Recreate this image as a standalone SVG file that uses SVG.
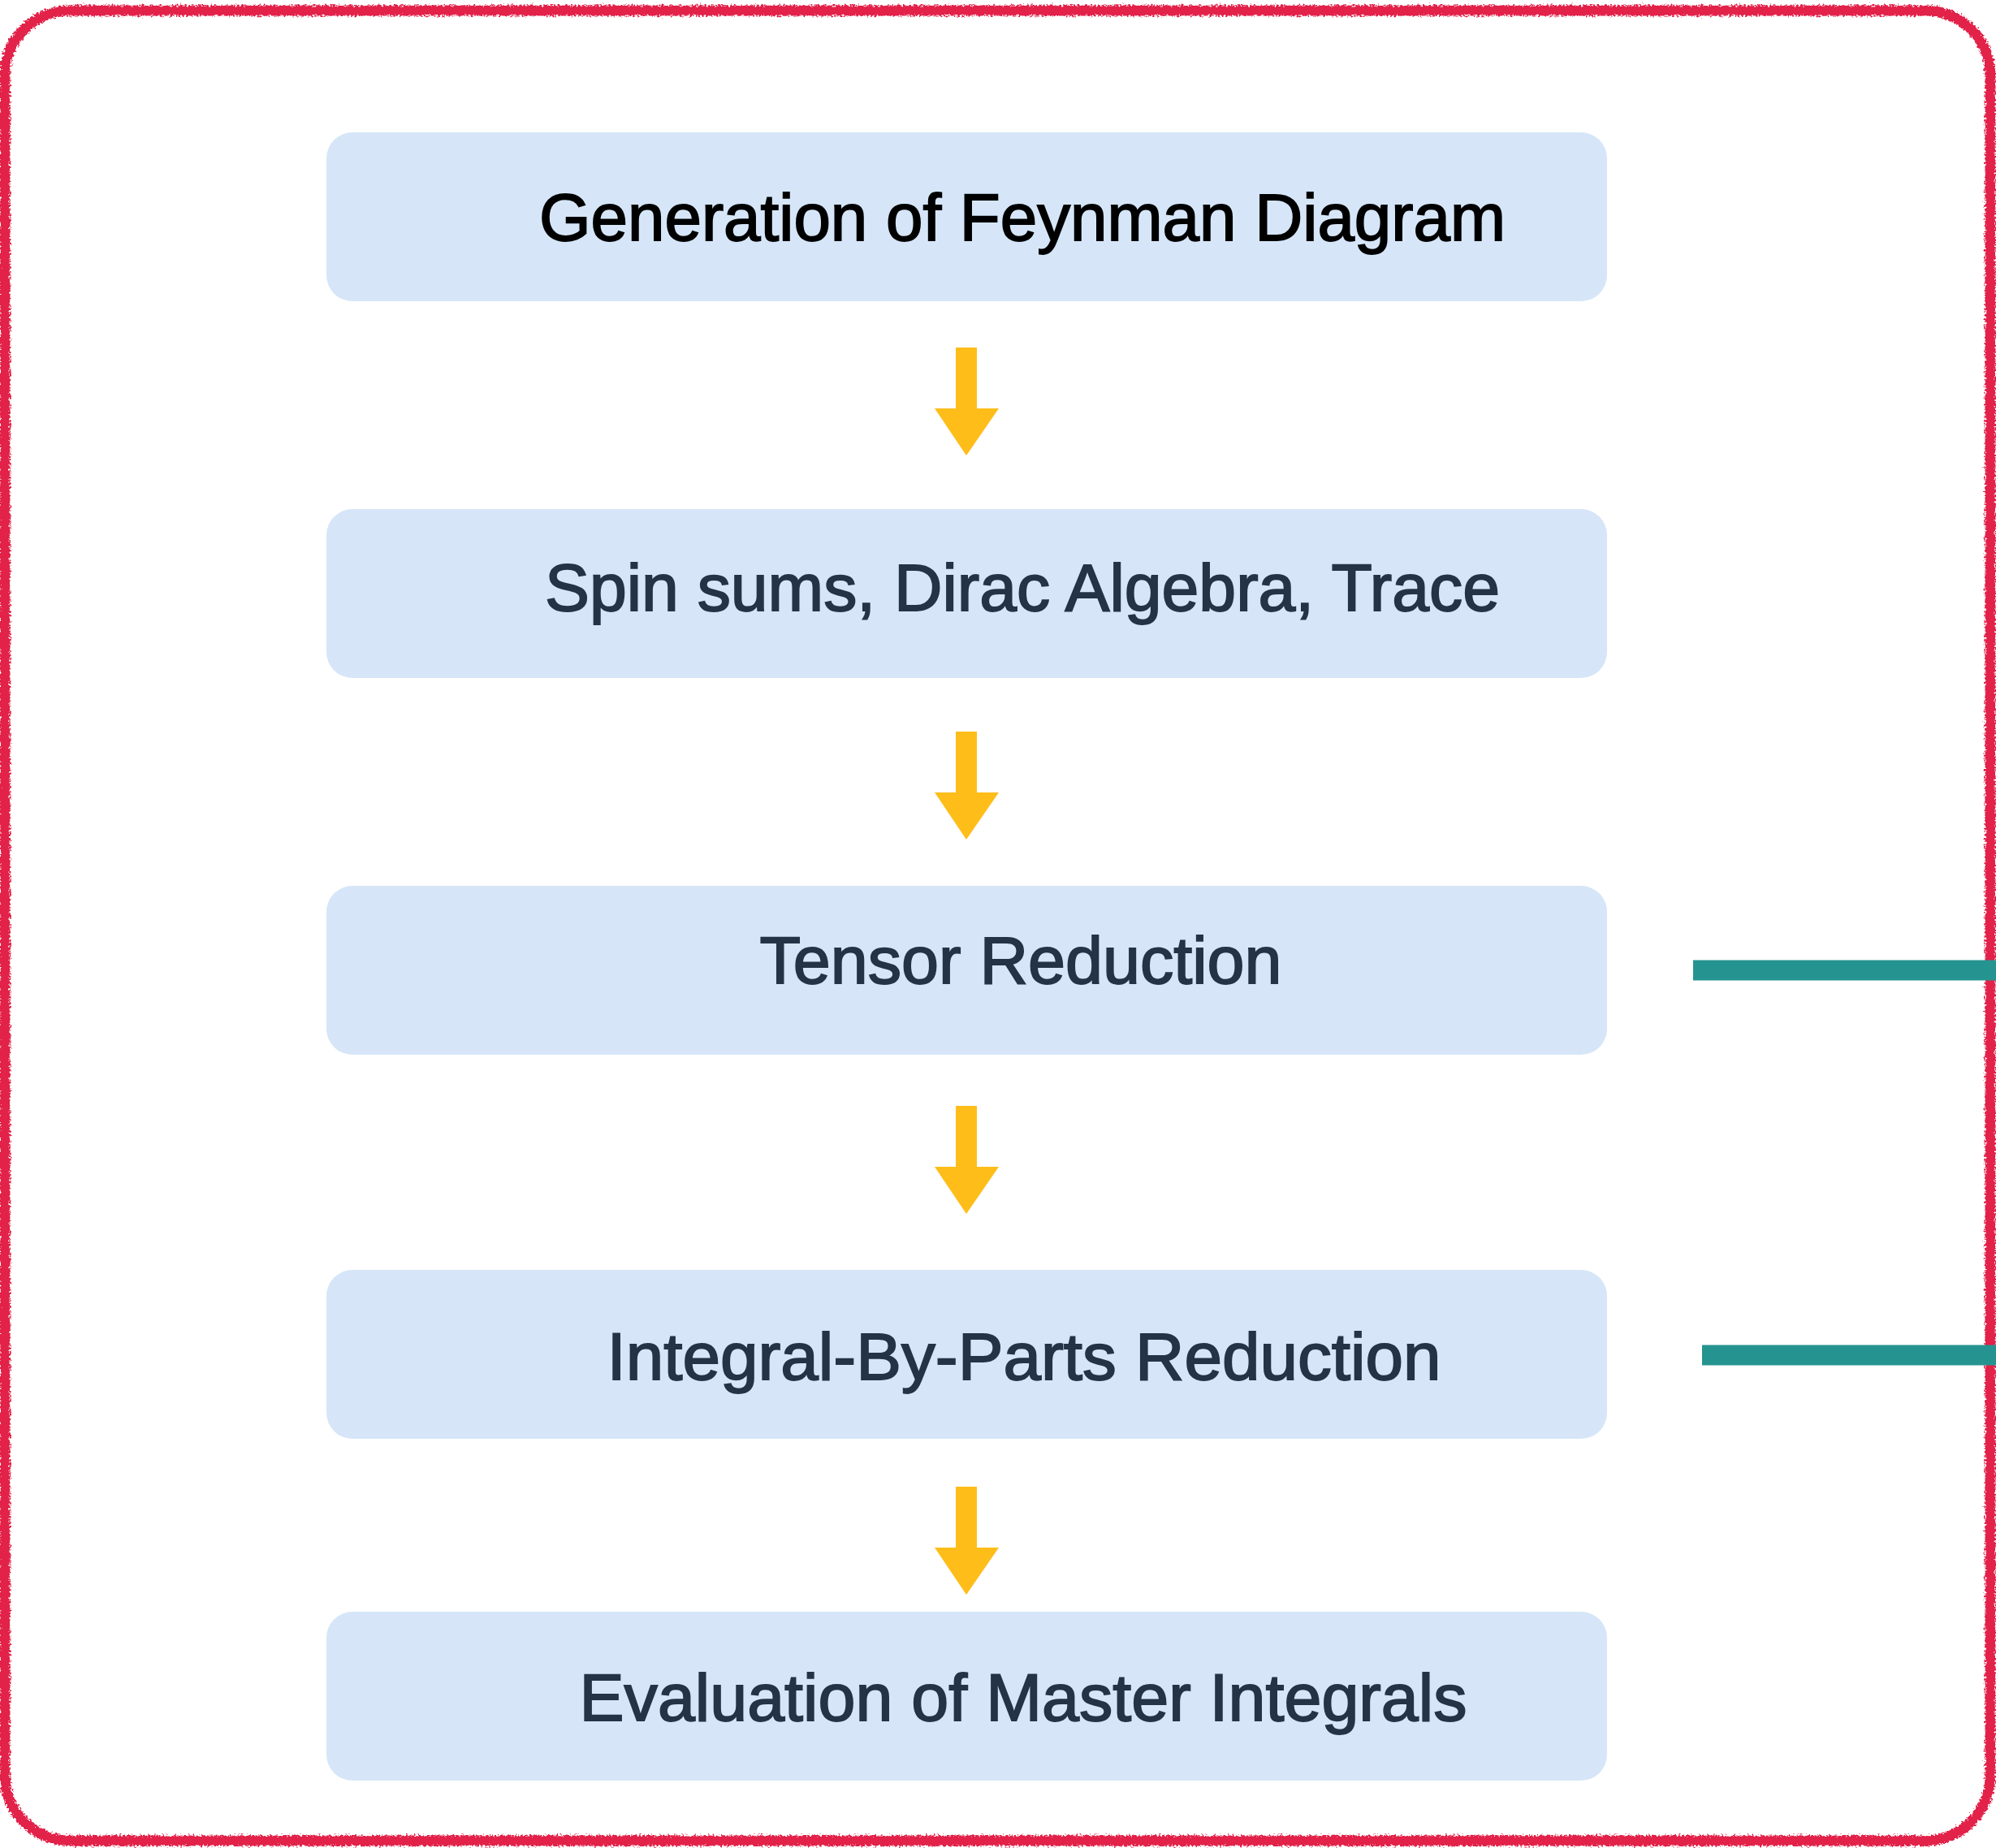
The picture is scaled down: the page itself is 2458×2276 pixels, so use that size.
<svg xmlns="http://www.w3.org/2000/svg" width="2458" height="2276" viewBox="0 0 2458 2276">
  <defs>
    <filter id="rough" x="-2%" y="-2%" width="104%" height="104%">
      <feTurbulence type="fractalNoise" baseFrequency="0.4" numOctaves="2" seed="3" result="n"/>
      <feDisplacementMap in="SourceGraphic" in2="n" scale="8" xChannelSelector="R" yChannelSelector="G"/>
    </filter>
    <style>
      .box { fill: #D6E6F8; }
      .lbl { font-family: "Liberation Sans", Arial, Helvetica, sans-serif; font-size: 81px; fill: #243346; text-anchor: middle; stroke: #243346; stroke-width: 1.8; }
      .lbl.first { fill: #000000; stroke: #000000; }
      .arrow { fill: #FEBD19; }
      .link { stroke: #259490; stroke-width: 25; fill: none; }
    </style>
  </defs>
  <rect width="2458" height="2276" fill="#FFFFFF"/>
  <g id="frame" filter="url(#rough)">
    <rect x="6" y="13" width="2445" height="2254" rx="80" ry="80" fill="none" stroke="#E2234A" stroke-width="13"/>
  </g>

  <g id="node-generation">
    <rect class="box" x="402" y="163" width="1577" height="208" rx="32" ry="32"/>
    <text class="lbl first" x="1259" y="296" textLength="1190" lengthAdjust="spacingAndGlyphs">Generation of Feynman Diagram</text>
  </g>
  <g id="node-spin">
    <rect class="box" x="402" y="627" width="1577" height="208" rx="32" ry="32"/>
    <text class="lbl" x="1259" y="752" textLength="1176" lengthAdjust="spacingAndGlyphs">Spin sums, Dirac Algebra, Trace</text>
  </g>
  <g id="node-tensor">
    <rect class="box" x="402" y="1091" width="1577" height="208" rx="32" ry="32"/>
    <text class="lbl" x="1257" y="1211" textLength="643" lengthAdjust="spacingAndGlyphs">Tensor Reduction</text>
  </g>
  <g id="node-ibp">
    <rect class="box" x="402" y="1564" width="1577" height="208" rx="32" ry="32"/>
    <text class="lbl" x="1261" y="1699" textLength="1027" lengthAdjust="spacingAndGlyphs">Integral-By-Parts Reduction</text>
  </g>
  <g id="node-master">
    <rect class="box" x="402" y="1985" width="1577" height="208" rx="32" ry="32"/>
    <text class="lbl" x="1260" y="2119" textLength="1093" lengthAdjust="spacingAndGlyphs">Evaluation of Master Integrals</text>
  </g>

  <g id="connectors">
    <polygon class="arrow" points="1177,428 1203,428 1203,503 1230,503 1190,561 1151,503 1177,503"/>
    <polygon class="arrow" points="1177,901 1203,901 1203,976 1230,976 1190,1034 1151,976 1177,976"/>
    <polygon class="arrow" points="1177,1362 1203,1362 1203,1437 1230,1437 1190,1495 1151,1437 1177,1437"/>
    <polygon class="arrow" points="1177,1831 1203,1831 1203,1906 1230,1906 1190,1964 1151,1906 1177,1906"/>
    <line class="link" x1="2085" y1="1195" x2="2458" y2="1195"/>
    <line class="link" x1="2096" y1="1669" x2="2458" y2="1669"/>
  </g>
</svg>
